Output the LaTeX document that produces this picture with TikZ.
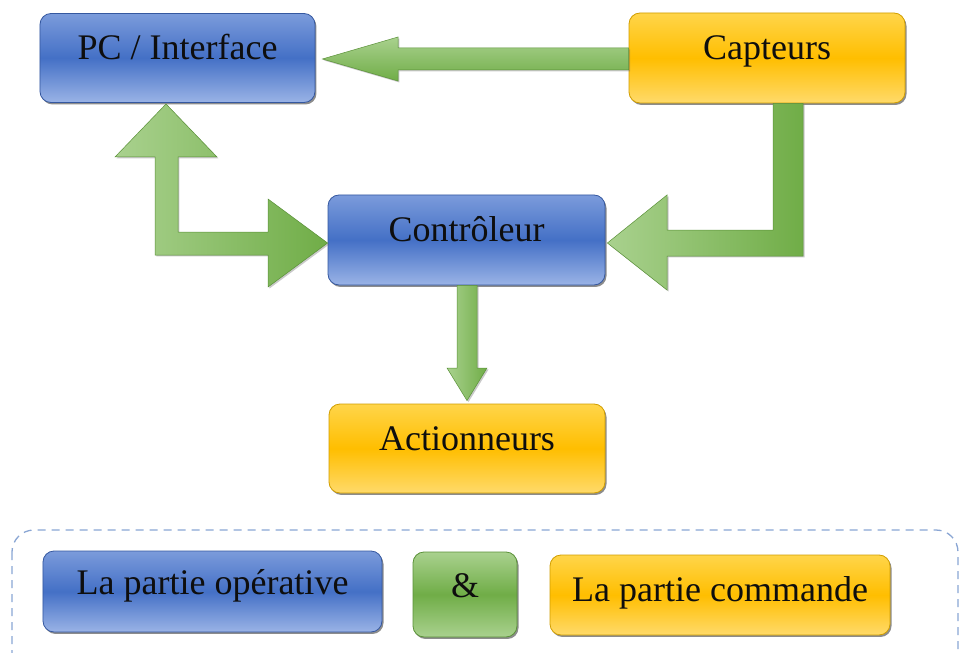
\documentclass[tikz,border=0pt]{standalone}
\usepackage{fontspec}
\setmainfont{Liberation Serif}
\usetikzlibrary{shadows,calc}

\definecolor{bluetop}{HTML}{7B9BDB}
\definecolor{bluemid}{HTML}{4470C6}
\definecolor{bluebot}{HTML}{9AB3E6}
\definecolor{blueedge}{HTML}{3558A0}
\definecolor{yeltop}{HTML}{FFD54A}
\definecolor{yelmid}{HTML}{FFBE00}
\definecolor{yelbot}{HTML}{FFDA6A}
\definecolor{yeledge}{HTML}{D19E00}
\definecolor{grnlight}{HTML}{A9D18E}
\definecolor{grnmid}{HTML}{70AD47}
\definecolor{grnedge}{HTML}{5A9138}
\definecolor{framecol}{HTML}{8AA6D4}
\definecolor{txt}{HTML}{0E0E0E}

\tikzset{
  box/.style={rounded corners=11bp, draw, line width=0.8bp,
    text=txt, font=\fontsize{36bp}{40bp}\selectfont,
    text height=24bp, text depth=21bp, inner sep=0pt,
    drop shadow={shadow xshift=1.5pt, shadow yshift=-2pt, opacity=0.6, fill=black!75}},
  bluebox/.style={box, draw=blueedge, top color=bluetop, bottom color=bluebot, middle color=bluemid},
  yelbox/.style={box, draw=yeledge, top color=yeltop, bottom color=yelbot, middle color=yelmid},
  grnbox/.style={box, draw=grnedge, top color=grnlight, bottom color=grnlight, middle color=grnmid},
  flowarrow/.style={draw=grnedge, line width=0.5bp,
    drop shadow={shadow xshift=1.5pt, shadow yshift=-1.5pt, opacity=0.35, fill=black!60}},
  harrow/.style={flowarrow, top color=grnlight, bottom color=grnmid},
  varrow/.style={flowarrow, left color=grnlight, right color=grnmid},
}

\begin{document}
\begin{tikzpicture}[x=1bp,y=-1bp]
\clip (0,0) rectangle (960,653);
\useasboundingbox (0,0) rectangle (960,653);
\fill[white] (0,0) rectangle (960,653);

% main blocks
\node[bluebox, minimum width=275bp, minimum height=89bp] (pc)  at (177.5,58) {PC / Interface};
\node[yelbox,  minimum width=276bp, minimum height=90bp] (cap) at (767,58)   {Capteurs};
\node[bluebox, minimum width=277bp, minimum height=90bp, text depth=22bp] (ctl) at (466.5,240) {Contrôleur};
\node[yelbox,  minimum width=276bp, minimum height=89bp] (act) at (467,448.5) {Actionneurs};

% Capteurs -> PC / Interface
\path[harrow] ($(pc.east)+(7,1)$) -- (398,37) -- (398,48) -- ($(cap.west)+(0,-10)$)
  -- ($(cap.west)+(0,12)$) -- (398,70) -- (398,81) -- cycle;

% PC / Interface <-> Controleur
\path[varrow] (166,104) -- (217,157) -- (178,157) -- (178,232) -- (268,232) -- (268,199)
  -- ($(ctl.west)+(0,3)$) -- (268,287) -- (268,255) -- (155,255) -- (155,157) -- (115,157) -- cycle;

% Capteurs -> Controleur
\path[varrow] ($(cap.south)+(6,0)$) -- ($(cap.south)+(36,0)$) -- (803,256) -- (667,256) -- (667,290)
  -- ($(ctl.east)+(2,3)$) -- (667,195) -- (667,230) -- (773,230) -- cycle;

% Controleur -> Actionneurs
\path[varrow] ($(ctl.south)+(-9.5,0)$) -- ($(ctl.south)+(10.5,0)$) -- (477,368) -- (487,368)
  -- ($(act.north)+(0,-3)$) -- (447,368) -- (457,368) -- cycle;

% legend
\draw[framecol, line width=1.3bp, dash pattern=on 8bp off 6bp, rounded corners=22bp]
  (12,530) rectangle (958,690);
\node[bluebox, minimum width=339bp, minimum height=81bp, text depth=19bp] (op)  at (212.5,591.5) {La partie opérative};
\node[grnbox,  minimum width=104bp, minimum height=85bp, text depth=18bp] (amp) at (465,594.5) {\&};
\node[yelbox,  minimum width=340bp, minimum height=80bp, text depth=12bp] (cmd) at (720,595) {La partie commande};
\end{tikzpicture}
\end{document}
